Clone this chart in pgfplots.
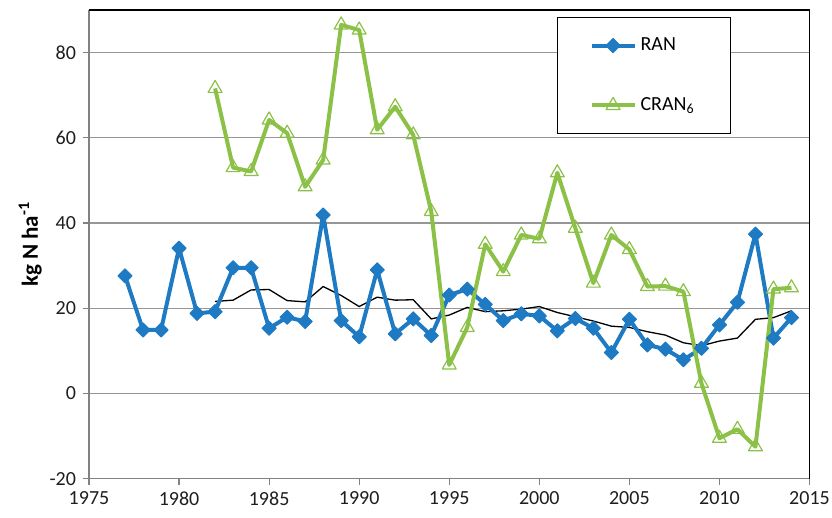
\documentclass[border=0pt,10pt]{standalone}
\usepackage{fontspec}
\setmainfont{Carlito}
\usepackage{pgfplots}
\pgfplotsset{compat=1.18}
\definecolor{ranblue}{RGB}{30,122,194}
\definecolor{crangreen}{RGB}{139,193,70}
\definecolor{gridgray}{RGB}{150,150,150}
\definecolor{axgray}{RGB}{130,130,130}
\definecolor{txt}{RGB}{30,30,30}
\begin{document}
\begin{tikzpicture}
\useasboundingbox (-44.5pt,-19.65pt) rectangle (371.5pt,239.35pt);
\begin{axis}[
  at={(0pt,0pt)}, anchor=south west,
  scale only axis, width=360.25pt, height=234.35pt,
  xmin=1975, xmax=2015, ymin=-20, ymax=90,
  xtick={1975,1980,...,2015}, ytick={-20,0,20,40,60,80},
  /pgf/number format/1000 sep={},
  /pgf/number format/assume math mode=true,
  ticklabel style={font=\fontsize{10}{12}\selectfont, text=txt},
  tick align=outside, major tick length=3pt,
  xtick style={axgray, line width=0.6pt},
  ytick style={axgray, line width=0.6pt},
  ymajorgrids, grid style={gridgray, line width=0.6pt},
  axis line style={axgray, line width=0.7pt},
  axis x line*=bottom, axis y line*=left,
  ylabel={\textbf{kg N ha\textsuperscript{-1}}},
  ylabel style={font=\fontsize{11.5}{13}\selectfont, yshift=-3pt},
  legend style={at={(0.6495,0.985)}, anchor=north west, draw=black, line width=0.6pt, fill=white,
    inner xsep=16pt, inner ysep=8pt, row sep=18pt,
    font=\fontsize{10}{12}\selectfont, cells={anchor=west}},
  legend image code/.code={\draw[mark repeat=2,mark phase=2] plot coordinates {(0pt,0pt)(10.75pt,0pt)(21.5pt,0pt)};},
  clip=false,
]
\draw[black, line width=0.6pt] (rel axis cs:0,1) -- (rel axis cs:1,1) -- (rel axis cs:1,0);
\addplot[black, line width=0.65pt, forget plot] coordinates {
(1982,21.6)(1983,21.9)(1984,24.3)(1985,24.4)(1986,21.8)(1987,21.5)(1988,25.1)(1989,23.0)
(1990,20.4)(1991,22.6)(1992,21.9)(1993,22.0)(1994,17.5)(1995,18.4)(1996,20.2)(1997,19.2)
(1998,19.4)(1999,19.8)(2000,20.4)(2001,19.0)(2002,18.0)(2003,17.0)(2004,15.8)(2005,15.5)
(2006,14.5)(2007,13.7)(2008,11.9)(2009,11.2)(2010,12.3)(2011,13.0)(2012,17.4)(2013,17.8)(2014,19.4)};
\addplot[ranblue, line width=2pt, line join=round, mark=square*, mark size=2.5pt,
  mark options={rotate=45, fill=ranblue, draw=ranblue, line width=0.5pt}] coordinates {
(1977,27.6)(1978,14.9)(1979,14.9)(1980,34.1)(1981,18.8)(1982,19.2)(1983,29.5)(1984,29.5)
(1985,15.3)(1986,17.9)(1987,16.9)(1988,41.9)(1989,17.1)(1990,13.3)(1991,29.0)(1992,14.0)
(1993,17.5)(1994,13.6)(1995,23.1)(1996,24.5)(1997,20.9)(1998,17.1)(1999,18.7)(2000,18.2)
(2001,14.7)(2002,17.6)(2003,15.3)(2004,9.6)(2005,17.4)(2006,11.4)(2007,10.4)(2008,7.9)
(2009,10.6)(2010,16.1)(2011,21.4)(2012,37.4)(2013,13.0)(2014,17.8)};
\addlegendentry{RAN}
\addplot[crangreen, line width=2pt, line join=round, mark=triangle, mark size=4pt,
  mark options={draw=crangreen, fill=white, fill opacity=0, line width=0.6pt}] coordinates {
(1982,71.6)(1983,53.0)(1984,52.1)(1985,64.2)(1986,61.1)(1987,48.5)(1988,54.8)(1989,86.5)
(1990,85.3)(1991,61.9)(1992,67.3)(1993,60.7)(1994,42.7)(1995,6.7)(1996,15.5)(1997,35.0)
(1998,28.6)(1999,37.2)(2000,36.3)(2001,51.8)(2002,38.8)(2003,25.9)(2004,37.2)(2005,33.8)
(2006,25.1)(2007,25.2)(2008,23.9)(2009,2.4)(2010,-10.5)(2011,-8.4)(2012,-12.5)(2013,24.5)(2014,24.8)};
\addlegendentry{CRAN\textsubscript{6}}
\end{axis}
\end{tikzpicture}
\end{document}
